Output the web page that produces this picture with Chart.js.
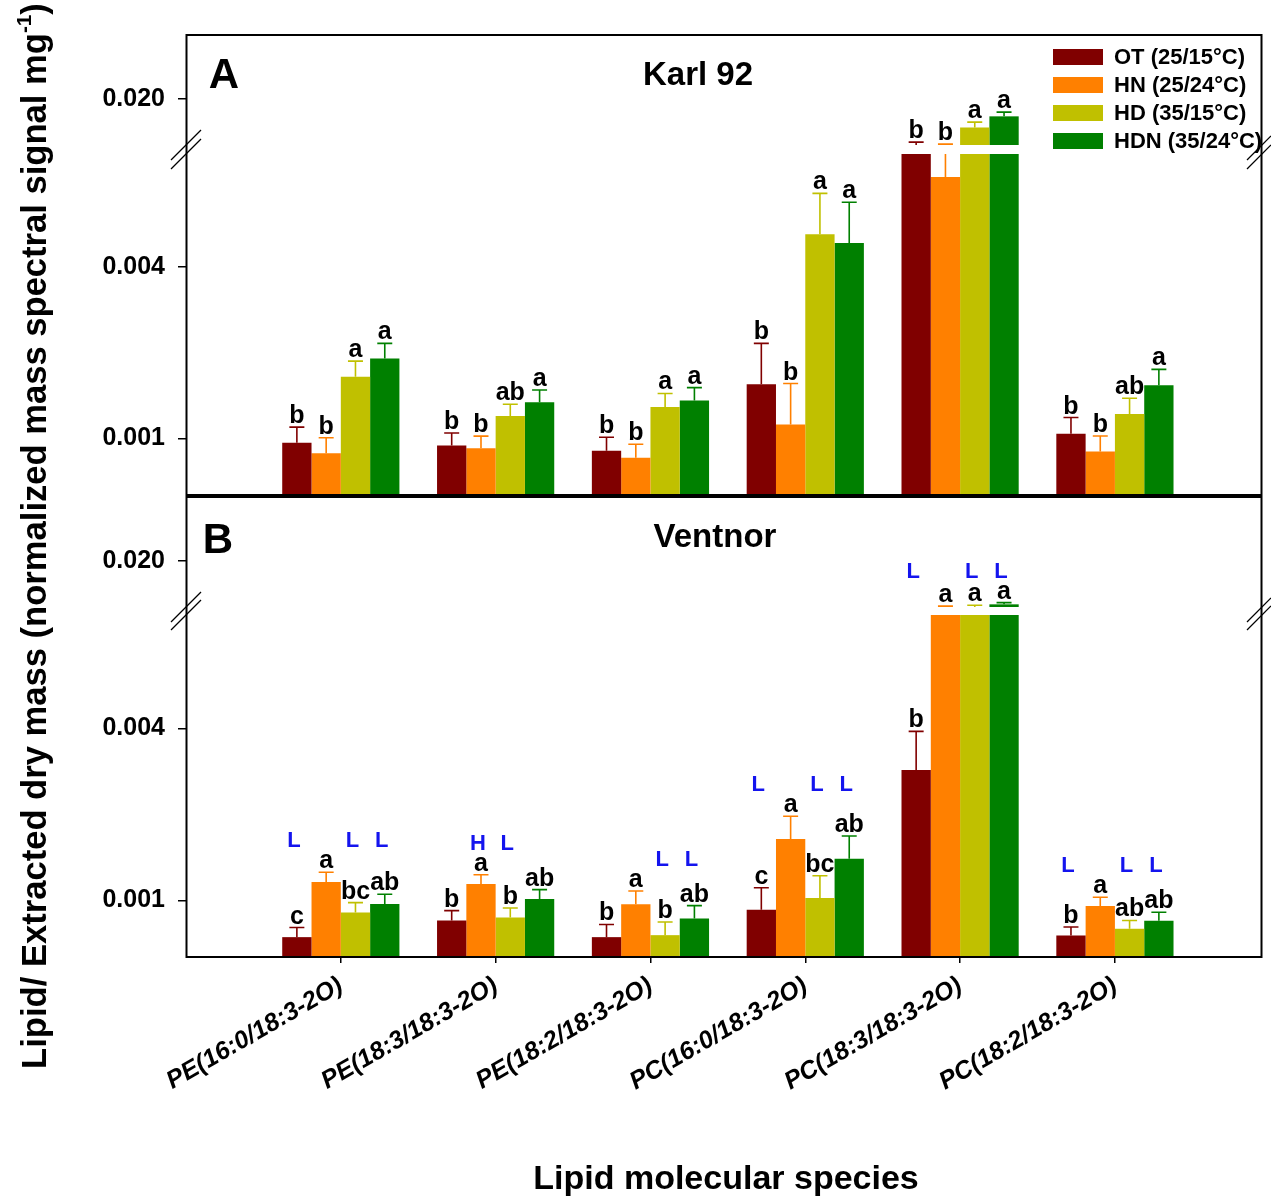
<!DOCTYPE html>
<html>
<head>
<meta charset="utf-8">
<script src="https://cdn.jsdelivr.net/npm/chart.js@4.4.1/dist/chart.umd.min.js"></script>
<style>
  body { margin: 0; background: #fff; }
  #page { position: relative; width: 1271px; height: 1196px; overflow: hidden;
          font-family: "Liberation Sans", Arial, sans-serif; font-weight: bold; color: #000; }
  #page canvas { position: absolute; left: 0; }
  .txt { position: absolute; white-space: nowrap; line-height: 1; transform: translate(-50%, -50%); }
  #yTitle { transform: translate(-50%, -50%) rotate(-90deg); font-size: 34.6px; }
  #yTitle sup { font-size: 0.6em; vertical-align: 0.75em; }
  .legRow { position: absolute; left: 1053px; height: 28px; display: flex; align-items: center; font-size: 22px; }
  .legRow span.sw { display: inline-block; width: 50px; height: 16px; margin-right: 11px; }
</style>
</head>
<body>
<div id="page">
  <canvas id="aUp"></canvas>
  <canvas id="aLow"></canvas>
  <canvas id="bUp"></canvas>
  <canvas id="bLow"></canvas>

  <svg width="1271" height="1196" style="position:absolute;left:0;top:0">
    <rect x="186.5" y="35" width="1075" height="460" fill="none" stroke="#000" stroke-width="2"/>
    <rect x="186.5" y="497" width="1075" height="460" fill="none" stroke="#000" stroke-width="2"/>
    <g stroke="#000" stroke-width="1.2">
      <line x1="171" y1="160" x2="201" y2="130"/>
      <line x1="171" y1="169" x2="201" y2="139"/>
      <line x1="1247" y1="160" x2="1271" y2="136"/>
      <line x1="1247" y1="169" x2="1271" y2="145"/>
      <line x1="171" y1="622" x2="201" y2="592"/>
      <line x1="171" y1="630" x2="201" y2="600"/>
      <line x1="1247" y1="622" x2="1271" y2="598"/>
      <line x1="1247" y1="630" x2="1271" y2="606"/>
    </g>
  </svg>

  <div class="txt" style="left:224px;top:74px;font-size:42px">A</div>
  <div class="txt" style="left:218px;top:539px;font-size:42px">B</div>
  <div class="txt" style="left:698px;top:73px;font-size:33px">Karl 92</div>
  <div class="txt" style="left:715px;top:535px;font-size:33px">Ventnor</div>
  <div class="txt" id="yTitle" style="left:33px;top:536px">Lipid/ Extracted dry mass (normalized mass spectral signal mg<sup>-1</sup>)</div>
  <div class="txt" style="left:726px;top:1177px;font-size:34px">Lipid molecular species</div>
  <div id="legend"></div>
</div>

<script>
  // -----------------------------
  // data
  // -----------------------------
  const categories = ["PE(16:0/18:3-2O)", "PE(18:3/18:3-2O)", "PE(18:2/18:3-2O)",
                      "PC(16:0/18:3-2O)", "PC(18:3/18:3-2O)", "PC(18:2/18:3-2O)"];
  const treatments = ["OT (25/15°C)", "HN (25/24°C)", "HD (35/15°C)", "HDN (35/24°C)"];
  const treatColors = ["#800000", "#ff8000", "#c0c000", "#008000"];

  // A: Karl 92
  const karlOT  = [0.000966, 0.000945, 0.000905, 0.00155, 0.0135, 0.00104];
  const karlHN  = [0.000888, 0.000924, 0.000855, 0.00112, 0.0083, 0.00090];
  const karlHD  = [0.00165, 0.00120, 0.00129, 0.00522, 0.0159, 0.00122];
  const karlHDN = [0.00191, 0.00134, 0.00136, 0.00487, 0.0174, 0.00154];
  const karlOTErr  = [0.00013, 0.00010, 0.000105, 0.00061, 0.00062, 0.000145];
  const karlHNErr  = [0.000118, 0.000095, 0.00010, 0.00044, 0.0056, 0.00012];
  const karlHDErr  = [0.00022, 0.00012, 0.00015, 0.00205, 0.0007, 0.000165];
  const karlHDNErr = [0.00025, 0.00014, 0.00015, 0.0019, 0.0006, 0.00021];
  const karlOTSig  = ["b", "b", "b", "b", "b", "b"];
  const karlHNSig  = ["b", "b", "b", "b", "b", "b"];
  const karlHDSig  = ["a", "ab", "a", "a", "a", "ab"];
  const karlHDNSig = ["a", "a", "a", "a", "a", "a"];

  // B: Ventnor
  const ventOT  = [0.000743, 0.00085, 0.000743, 0.000927, 0.00286, 0.000753];
  const ventHN  = [0.00116, 0.00114, 0.000968, 0.00164, 0.0120, 0.000955];
  const ventHD  = [0.000907, 0.00087, 0.000755, 0.00102, 0.0120, 0.000795];
  const ventHDN = [0.00097, 0.00101, 0.000864, 0.00140, 0.0141, 0.000848];
  const ventOTErr  = [0.00006, 0.00007, 0.00008, 0.00018, 0.00105, 0.000053];
  const ventHNErr  = [0.000095, 0.00009, 0.00011, 0.00033, 0.0019, 0.00007];
  const ventHDErr  = [0.000075, 0.00007, 0.000085, 0.0002, 0.0020, 0.000055];
  const ventHDNErr = [0.00008, 0.00008, 0.000094, 0.00028, 0.0002, 0.00006];
  const ventOTSig  = ["c", "b", "b", "c", "b", "b"];
  const ventHNSig  = ["a", "a", "a", "a", "a", "a"];
  const ventHDSig  = ["bc", "b", "b", "bc", "a", "ab"];
  const ventHDNSig = ["ab", "ab", "ab", "ab", "a", "ab"];
  // genotype comparison marks (blue)
  const ventOTMark  = ["L", "", "", "L", "L", "L"];
  const ventHNMark  = ["", "H", "", "", "", ""];
  const ventHDMark  = ["L", "L", "L", "L", "L", "L"];
  const ventHDNMark = ["L", "", "L", "L", "L", "L"];

  // y axis break: lower and upper log segments
  const lowRange = [0.000633, 0.0100];
  const upRange = [0.0138, 0.0336];
  const lowTicks = [0.001, 0.004];
  const upTicks = [0.020];

  // -----------------------------
  // setup
  // -----------------------------
  const W = 1271;
  const FONT = '"Liberation Sans", Arial, sans-serif';

  const karl = {
    means: [karlOT, karlHN, karlHD, karlHDN],
    errs: [karlOTErr, karlHNErr, karlHDErr, karlHDNErr],
    sig: [karlOTSig, karlHNSig, karlHDSig, karlHDNSig],
    marks: null
  };
  const vent = {
    means: [ventOT, ventHN, ventHD, ventHDN],
    errs: [ventOTErr, ventHNErr, ventHDErr, ventHDNErr],
    sig: [ventOTSig, ventHNSig, ventHDSig, ventHDNSig],
    marks: [ventOTMark, ventHNMark, ventHDMark, ventHDNMark]
  };

  // legend (HTML)
  const legend = document.getElementById("legend");
  treatments.forEach((t, k) => {
    const row = document.createElement("div");
    row.className = "legRow";
    row.style.top = (43 + 28 * k) + "px";
    row.innerHTML = '<span class="sw" style="background:' + treatColors[k] + '"></span>' + t;
    legend.appendChild(row);
  });

  // error bars + letters
  const errPlugin = {
    id: "errbars",
    afterDatasetsDraw(chart, args, opts) {
      const ctx = chart.ctx;
      const ys = chart.scales.y;
      const a = chart.chartArea;
      const site = opts.site;
      const inRange = v => v >= ys.min && v <= ys.max;

      ctx.save();
      ctx.beginPath();
      ctx.rect(a.left, a.top, a.right - a.left, a.bottom - a.top);
      ctx.clip();
      chart.data.datasets.forEach((ds, k) => {
        chart.getDatasetMeta(k).data.forEach((bar, i) => {
          const v = site.means[k][i];
          const top = v + site.errs[k][i];
          const y0 = ys.getPixelForValue(v);
          const y1 = ys.getPixelForValue(top);
          ctx.strokeStyle = treatColors[k];
          ctx.lineWidth = 1.6;
          ctx.beginPath();
          ctx.moveTo(bar.x, y0);
          ctx.lineTo(bar.x, y1);
          ctx.moveTo(bar.x - 7.5, y1);
          ctx.lineTo(bar.x + 7.5, y1);
          ctx.stroke();
        });
      });
      ctx.restore();

      ctx.save();
      ctx.textAlign = "center";
      ctx.textBaseline = "alphabetic";
      ctx.fillStyle = "#000";
      ctx.font = "bold 25px " + FONT;
      chart.data.datasets.forEach((ds, k) => {
        chart.getDatasetMeta(k).data.forEach((bar, i) => {
          const top = site.means[k][i] + site.errs[k][i];
          if (!inRange(top)) return;
          ctx.fillText(site.sig[k][i], bar.x, ys.getPixelForValue(top) - 4);
        });
      });

      if (site.marks) {
        ctx.fillStyle = "#1414ee";
        ctx.font = "bold 22px " + FONT;
        ctx.textBaseline = "middle";
        categories.forEach((c, i) => {
          let gTop = 0;
          site.means.forEach((m, k) => { gTop = Math.max(gTop, m[i] + site.errs[k][i]); });
          if (!inRange(gTop)) return;
          const y = ys.getPixelForValue(gTop) - 31;
          site.marks.forEach((mk, k) => {
            if (!mk[i]) return;
            const bar = chart.getDatasetMeta(k).data[i];
            ctx.fillText(mk[i], bar.x - 3, y);
          });
        });
      }
      ctx.restore();
    }
  };

  function drawSegment(id, seg, site) {
    const cv = document.getElementById(id);
    const padTop = 30;
    const xAxisH = seg.showX ? 160 : 0;
    const padBottom = seg.showX ? 0 : 30;
    const h = padTop + (seg.bottom - seg.top) + xAxisH + padBottom;
    cv.width = W;
    cv.height = h;
    cv.style.width = W + "px";
    cv.style.height = h + "px";
    cv.style.top = (seg.top - padTop) + "px";

    const datasets = treatments.map((t, k) => ({
      label: t,
      data: site.means[k].map((v, i) => ({ x: i + 1, y: v })),
      backgroundColor: treatColors[k],
      borderWidth: 0,
      categoryPercentage: 0.757,
      barPercentage: 1
    }));

    return new Chart(cv, {
      type: "bar",
      data: { datasets },
      options: {
        responsive: false,
        animation: false,
        devicePixelRatio: 1,
        layout: { padding: { left: 0, right: W - 1262, top: padTop, bottom: padBottom } },
        plugins: {
          legend: { display: false },
          tooltip: { enabled: false },
          errbars: { site }
        },
        scales: {
          x: {
            type: "linear",
            min: 0,
            max: 6.95,
            offset: false,
            bounds: "data",
            afterBuildTicks: s => { s.ticks = categories.map((c, i) => ({ value: i + 1 })); },
            afterFit: s => { s.height = xAxisH; },
            grid: { display: seg.showX, offset: false, drawOnChartArea: false, drawTicks: true,
                    tickLength: 6, color: "#000", lineWidth: 1.5 },
            border: { display: false },
            ticks: {
              display: seg.showX,
              autoSkip: false,
              minRotation: 30,
              maxRotation: 30,
              padding: 8,
              color: "#000",
              font: { family: FONT, size: 25, weight: "bold", style: "italic" },
              callback: v => categories[v - 1]
            }
          },
          y: {
            type: "logarithmic",
            min: seg.min,
            max: seg.max,
            bounds: "data",
            afterBuildTicks: s => { s.ticks = seg.ticks.map(v => ({ value: v })); },
            afterFit: s => { s.width = 186; },
            grid: { drawOnChartArea: false, drawTicks: true, tickLength: 8, color: "#000", lineWidth: 1.5 },
            border: { display: false },
            ticks: {
              padding: 13,
              color: "#000",
              font: { family: FONT, size: 25, weight: "bold" },
              callback: v => Number(v).toFixed(3)
            }
          }
        }
      },
      plugins: [errPlugin]
    });
  }

  // -----------------------------
  // draw panels
  // -----------------------------
  drawSegment("aUp",  { top: 35,  bottom: 145, min: upRange[0],  max: upRange[1],  ticks: upTicks,  showX: false }, karl);
  drawSegment("aLow", { top: 154, bottom: 495, min: lowRange[0], max: lowRange[1], ticks: lowTicks, showX: false }, karl);
  drawSegment("bUp",  { top: 497, bottom: 607, min: upRange[0],  max: upRange[1],  ticks: upTicks,  showX: false }, vent);
  drawSegment("bLow", { top: 615, bottom: 957, min: lowRange[0], max: lowRange[1], ticks: lowTicks, showX: true }, vent);
</script>
</body>
</html>
